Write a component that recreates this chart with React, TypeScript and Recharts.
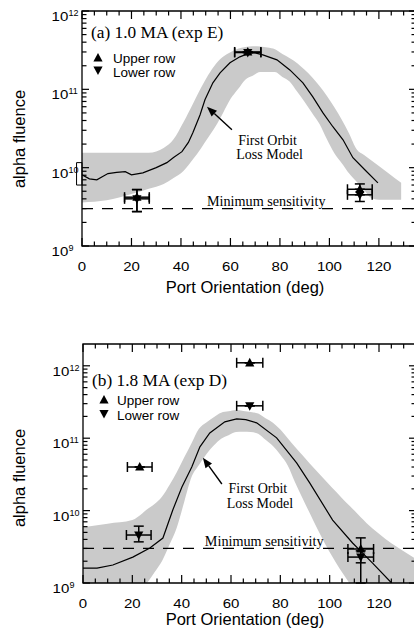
import React from 'react';
import {
  ComposedChart, Line, Area, Scatter, XAxis, YAxis,
  ReferenceLine, ReferenceDot, ReferenceArea, ErrorBar,
} from 'recharts';

const SANS = '"Liberation Sans", Arial, Helvetica, sans-serif';
const SERIF = '"Liberation Serif", "Times New Roman", Times, serif';
const BAND_FILL = '#cacaca';
const W = 420;

// ---- axes ----
const X_TICKS = [0, 5, 10, 15, 20, 25, 30, 35, 40, 45, 50, 55, 60, 65, 70, 75, 80, 85, 90, 95, 100, 105, 110, 115, 120, 125, 130, 135];
const X_LABELED = [0, 20, 40, 60, 80, 100, 120];
const DECADES = [9, 10, 11];
const MANTISSAS = [1, 2, 3, 4, 5, 6, 7, 8, 9];
const Y_TICKS = [...DECADES.flatMap((d) => MANTISSAS.map((m) => m * Math.pow(10, d))), 1e12];
const MIN_SENS = 3e9;

// ---- panel (a) 1.0 MA ----
const modelAngleA = [0, 3, 6, 8, 10.5, 14, 17.5, 20, 24.6, 30, 34.3, 37, 40.4, 43, 44.8, 47.7, 49.7, 52.9, 55.8, 59.8, 63.8, 67.9, 70, 73.1, 78.8, 84, 89.3, 93.3, 97.4, 101.4, 105.5, 109.5, 114.3, 119.6];
const modelFluenceA = [8.1e9, 7.2e9, 7.0e9, 7.6e9, 8.4e9, 8.7e9, 8.9e9, 8.1e9, 8.6e9, 1.0e10, 1.16e10, 1.35e10, 1.6e10, 2.1e10, 2.8e10, 4.7e10, 7.35e10, 1.21e11, 1.62e11, 2.18e11, 2.6e11, 2.92e11, 2.92e11, 2.75e11, 2.38e11, 1.77e11, 1.21e11, 8.0e10, 5.0e10, 3.33e10, 2.27e10, 1.34e10, 9.4e9, 6.4e9];
const bandAngleA = [0, 10, 20, 27, 33, 37, 41, 45, 48, 51, 54, 57, 60, 63, 66, 69, 72, 75, 78, 81, 84, 87, 90, 93, 96, 99, 102, 105, 108, 111, 114, 117, 120, 124, 129];
const bandLowA = [3.6e9, 3.83e9, 4.6e9, 5.4e9, 6.2e9, 7.4e9, 9.1e9, 1.3e10, 1.75e10, 2.42e10, 3.37e10, 5.0e10, 7.5e10, 1.0e11, 1.33e11, 1.49e11, 1.67e11, 1.67e11, 1.67e11, 1.44e11, 1.25e11, 9.3e10, 6.9e10, 5.0e10, 3.6e10, 2.3e10, 1.53e10, 1.14e10, 8.4e9, 6.6e9, 5.2e9, 4.1e9, 3.9e9, 3.9e9, 3.9e9];
const bandHighA = [1.55e10, 1.55e10, 1.55e10, 1.55e10, 1.78e10, 2.3e10, 3.8e10, 6.7e10, 1.03e11, 1.52e11, 2.09e11, 2.6e11, 2.97e11, 3.29e11, 3.47e11, 3.55e11, 3.52e11, 3.41e11, 3.24e11, 2.82e11, 2.49e11, 2.16e11, 1.78e11, 1.43e11, 1.1e11, 8.2e10, 5.9e10, 4.1e10, 2.72e10, 1.72e10, 1.45e10, 1.23e10, 1.05e10, 8.4e9, 6.4e9];
const upperAngleA = [22.2, 67, 112.3];
const upperFluenceA = [4.2e9, 3.0e11, 5.3e9];
const upperAngleErrA = [5, 5.3, 5];
const upperFluenceErrA: [number, number][] = [[1.45e9, 1.05e9], [0, 0], [0.8e9, 0.9e9]];
const lowerAngleA = [22.2, 67, 112.3];
const lowerFluenceA = [4.0e9, 2.95e11, 4.5e9];
const lowerAngleErrA = [5, 5.3, 5];
const lowerFluenceErrA: [number, number][] = [[1.25e9, 1.25e9], [0, 0], [0.8e9, 0.8e9]];
const bracketA = { x: [-2.2, 0], y: [6.0e9, 1.16e10] };

// ---- panel (b) 1.8 MA ----
const modelAngleB = [0, 5.7, 12.1, 20.2, 27.1, 32.4, 36.4, 40.1, 44.1, 47.4, 51.4, 57.5, 62.3, 66, 70.4, 78.5, 86.6, 91.9, 101.2, 109.3, 117.4, 125.1];
const modelFluenceB = [1.61e9, 1.61e9, 1.77e9, 2.28e9, 3.04e9, 4.18e9, 1.02e10, 2.12e10, 4.0e10, 7.6e10, 1.18e11, 1.68e11, 1.85e11, 1.8e11, 1.63e11, 1.01e11, 4.55e10, 2.41e10, 7.4e9, 3.57e9, 1.88e9, 1.0e9];
const bandAngleB = [0, 10, 20, 24, 26, 29, 32, 35, 38, 41, 44, 47, 50, 53, 56, 59, 62, 65, 68, 71, 74, 77, 80, 83, 86, 89, 92, 95, 98, 101, 104, 107, 110, 115, 120, 125, 130, 135];
const bandLowB = [5e8, 5e8, 5e8, 7.9e8, 1.0e9, 1.41e9, 2.0e9, 3.35e9, 5.8e9, 1.3e10, 2.9e10, 4.27e10, 6.0e10, 7.9e10, 9.8e10, 1.1e11, 1.22e11, 1.23e11, 1.22e11, 1.15e11, 9.5e10, 7.8e10, 5.9e10, 4.2e10, 2.45e10, 1.48e10, 9.1e9, 5.6e9, 3.55e9, 2.34e9, 1.58e9, 1.12e9, 7.9e8, 5e8, 5e8, 5e8, 5e8, 5e8];
const bandHighB = [5.9e9, 6.6e9, 7.4e9, 9.1e9, 1.04e10, 1.23e10, 1.55e10, 2.24e10, 3.39e10, 5.4e10, 8.5e10, 1.35e11, 1.65e11, 1.95e11, 2.25e11, 2.35e11, 2.45e11, 2.38e11, 2.3e11, 2.19e11, 1.89e11, 1.64e11, 1.32e11, 1.0e11, 7.55e10, 5.8e10, 4.42e10, 3.44e10, 2.66e10, 2.07e10, 1.62e10, 1.26e10, 1.0e10, 6.7e9, 4.8e9, 3.55e9, 2.75e9, 2.14e9];
const upperAngleB = [23, 67.6, 112.6];
const upperFluenceB = [4.0e10, 1.1e12, 2.95e9];
const upperAngleErrB = [5, 5.3, 5.2];
const upperFluenceErrB: [number, number][] = [[0, 0], [0, 0], [1.05e9, 1.25e9]];
const lowerAngleB = [22.6, 67.6, 112.6];
const lowerFluenceB = [4.6e9, 2.8e11, 2.28e9];
const lowerAngleErrB = [5, 5.3, 5.2];
const lowerFluenceErrB: [number, number][] = [[0.9e9, 1.5e9], [0, 0], [1.28e9, 0.5e9]];

// annotation anchors (data coordinates)
const arrowA = [{ x: 60.6, y: 3.05e10 }, { x: 50.5, y: 5.98e10 }];
const labelA = { x: 75, y: 1.96e10 };
const minTextA = { x: 50.5, y: MIN_SENS };
const arrowB = [{ x: 56.3, y: 2.33e10 }, { x: 48.6, y: 5.35e10 }];
const labelB = { x: 70.9, y: 1.75e10 };
const minTextB = { x: 49.4, y: MIN_SENS };

const toLine = (xs: number[], ys: number[]) => xs.map((x, i) => ({ x, y: ys[i] }));
const toBand = (xs: number[], lo: number[], hi: number[]) => xs.map((x, i) => ({ x, band: [lo[i], hi[i]] }));
const toPts = (xs: number[], ys: number[], xe: number[], ye: [number, number][]) =>
  xs.map((x, i) => ({ x, y: ys[i], xe: [xe[i], xe[i]], ye: ye[i] }));

const UpTri = (p: any) => {
  const { cx, cy } = p;
  if (cx == null || cy == null) return <g />;
  return <polygon points={`${cx},${cy - 5} ${cx - 4.6},${cy + 3.6} ${cx + 4.6},${cy + 3.6}`} fill="#000" />;
};
const DownTri = (p: any) => {
  const { cx, cy } = p;
  if (cx == null || cy == null) return <g />;
  return <polygon points={`${cx},${cy + 5} ${cx - 4.6},${cy - 3.6} ${cx + 4.6},${cy - 3.6}`} fill="#000" />;
};

const Arrow = (p: any) => {
  const { x1, y1, x2, y2 } = p;
  const a = Math.atan2(y2 - y1, x2 - x1);
  const L = 10, Wd = 4;
  const bx = x2 - L * Math.cos(a), by = y2 - L * Math.sin(a);
  const px = -Math.sin(a) * Wd, py = Math.cos(a) * Wd;
  return (
    <g>
      <line x1={x1} y1={y1} x2={bx} y2={by} stroke="#000" strokeWidth={1.4} />
      <polygon points={`${x2},${y2} ${bx + px},${by + py} ${bx - px},${by - py}`} fill="#000" />
    </g>
  );
};

function makeXTick(plotH: number) {
  return (props: any) => {
    const { x, y, payload } = props;
    const v = payload.value;
    const major = v % 20 === 0;
    const len = major ? 8 : 4.5;
    return (
      <g>
        <line x1={x} y1={y} x2={x} y2={y - len} stroke="#000" strokeWidth={1.2} />
        <line x1={x} y1={y - plotH} x2={x} y2={y - plotH + len} stroke="#000" strokeWidth={1.2} />
        {X_LABELED.includes(v) ? (
          <text transform={`translate(${x},${y + 25}) scale(1.25,1)`} textAnchor="middle" fontSize={12} fontFamily={SANS} fill="#000">{v}</text>
        ) : null}
      </g>
    );
  };
}

function makeYTick(plotW: number) {
  return (props: any) => {
    const { x, y, payload } = props;
    const v = payload.value;
    const e = Math.log10(v);
    const major = Math.abs(e - Math.round(e)) < 1e-6;
    const len = major ? 7 : 4.5;
    return (
      <g>
        <line x1={x} y1={y} x2={x + len} y2={y} stroke="#000" strokeWidth={1.2} />
        <line x1={x + plotW} y1={y} x2={x + plotW - len} y2={y} stroke="#000" strokeWidth={1.2} />
        {major ? (
          <g>
            <text transform={`translate(${x - 13.7},${y + 10}) scale(1.25,1)`} textAnchor="end" fontSize={12} fontFamily={SANS} fill="#000">10</text>
            <text transform={`translate(${x - 13.5},${y + 5})`} fontSize={9} fontFamily={SANS} fill="#000">{Math.round(e)}</text>
          </g>
        ) : null}
      </g>
    );
  };
}

type PanelProps = {
  height: number; marginTop: number; xAxisH: number; yAxisW: number; yMax: number;
  model: any[]; band: any[]; upper: any[]; lower: any[];
  arrow: { x: number; y: number }[]; label: { x: number; y: number }; minText: { x: number; y: number };
  title: string; titleX: number; titleY: number;
  legX: number; legTriX: number; legY1: number; legY2: number;
  yTitleY: number; xTitleY: number;
  bracket?: { x: number[]; y: number[] };
};

function Panel(p: PanelProps) {
  const marginRight = 4;
  const plotH = p.height - p.marginTop - p.xAxisH;
  const plotW = W - marginRight - p.yAxisW;
  return (
    <ComposedChart width={W} height={p.height} margin={{ top: p.marginTop, right: marginRight, bottom: 0, left: 0 }}>
      <XAxis dataKey="x" type="number" domain={[0, 135]} allowDataOverflow ticks={X_TICKS} interval={0}
        tickSize={0} tickMargin={0} axisLine={false} tickLine={false} tick={makeXTick(plotH)} height={p.xAxisH} />
      <YAxis dataKey="y" type="number" scale="log" domain={[1e9, p.yMax]} allowDataOverflow ticks={Y_TICKS} interval={0}
        tickSize={0} tickMargin={0} axisLine={false} tickLine={false} tick={makeYTick(plotW)} width={p.yAxisW} />
      <Area data={p.band} dataKey="band" type="monotone" stroke="none" fill={BAND_FILL} fillOpacity={1} isAnimationActive={false} />
      <ReferenceLine y={MIN_SENS} stroke="#000" strokeWidth={1.2} strokeDasharray="11 9" />
      <Line data={p.model} dataKey="y" type="linear" stroke="#000" strokeWidth={1.2} dot={false} isAnimationActive={false} />
      <Scatter data={p.upper} dataKey="y" shape={UpTri} isAnimationActive={false}>
        <ErrorBar dataKey="xe" direction="x" width={5} stroke="#000" strokeWidth={1.5} isAnimationActive={false} />
        <ErrorBar dataKey="ye" direction="y" width={5} stroke="#000" strokeWidth={1.5} isAnimationActive={false} />
      </Scatter>
      <Scatter data={p.lower} dataKey="y" shape={DownTri} isAnimationActive={false}>
        <ErrorBar dataKey="xe" direction="x" width={5} stroke="#000" strokeWidth={1.5} isAnimationActive={false} />
        <ErrorBar dataKey="ye" direction="y" width={5} stroke="#000" strokeWidth={1.5} isAnimationActive={false} />
      </Scatter>
      <ReferenceLine segment={p.arrow as any} shape={Arrow} ifOverflow="visible" />
      <ReferenceDot x={p.label.x} y={p.label.y} r={0} ifOverflow="visible"
        shape={(s: any) => (
          <g>
            <text x={s.cx} y={s.cy} fontFamily={SERIF} fontSize={14} fill="#000" textAnchor="middle">First Orbit</text>
            <text x={s.cx + 2} y={s.cy + 14.5} fontFamily={SERIF} fontSize={14} fill="#000" textAnchor="middle">Loss Model</text>
          </g>
        )} />
      <ReferenceDot x={p.minText.x} y={p.minText.y} r={0} ifOverflow="visible"
        shape={(s: any) => (
          <text x={s.cx} y={s.cy - 2.5} fontFamily={SERIF} fontSize={14.2} fill="#000">Minimum sensitivity</text>
        )} />
      {p.bracket ? (
        <ReferenceArea x1={p.bracket.x[0]} x2={p.bracket.x[1]} y1={p.bracket.y[0]} y2={p.bracket.y[1]}
          ifOverflow="visible" fill="#fff" fillOpacity={1} stroke="#000" strokeWidth={1} />
      ) : null}
      <ReferenceArea x1={0} x2={135} y1={1e9} y2={p.yMax} ifOverflow="visible" fill="none" fillOpacity={0} stroke="#000" strokeWidth={1.3} />
      <text transform={`translate(${p.titleX},${p.titleY}) scale(1.05,1)`} fontFamily={SERIF} fontSize={16.5} fill="#000">{p.title}</text>
      <polygon points={`${p.legTriX},${p.legY1 - 10} ${p.legTriX - 4.6},${p.legY1 - 1.5} ${p.legTriX + 4.6},${p.legY1 - 1.5}`} fill="#000" />
      <text x={p.legX} y={p.legY1} fontFamily={SANS} fontSize={13.5} fill="#000">Upper row</text>
      <polygon points={`${p.legTriX},${p.legY2 - 1.5} ${p.legTriX - 4.6},${p.legY2 - 10} ${p.legTriX + 4.6},${p.legY2 - 10}`} fill="#000" />
      <text x={p.legX} y={p.legY2} fontFamily={SANS} fontSize={13.5} fill="#000">Lower row</text>
      <text transform={`translate(25,${p.yTitleY}) rotate(-90)`} textAnchor="middle" fontFamily={SANS} fontSize={16.5} fill="#000">alpha fluence</text>
      <text x={245} y={p.xTitleY} textAnchor="middle" fontFamily={SANS} fontSize={16.5} fill="#000">Port Orientation (deg)</text>
    </ComposedChart>
  );
}

export default function App() {
  return (
    <div style={{ position: 'absolute', left: 0, top: 0, width: 414, height: 628, overflow: 'hidden', background: '#fff' }}>
      <div style={{ position: 'absolute', left: 0, top: 0 }}>
        <Panel height={310} marginTop={11} xAxisH={64} yAxisW={82} yMax={1e12}
          model={toLine(modelAngleA, modelFluenceA)} band={toBand(bandAngleA, bandLowA, bandHighA)}
          upper={toPts(upperAngleA, upperFluenceA, upperAngleErrA, upperFluenceErrA)}
          lower={toPts(lowerAngleA, lowerFluenceA, lowerAngleErrA, lowerFluenceErrA)}
          arrow={arrowA} label={labelA} minText={minTextA}
          title="(a) 1.0 MA (exp E)" titleX={91} titleY={38}
          legX={113} legTriX={98} legY1={63} legY2={76.5}
          yTitleY={139} xTitleY={293} bracket={bracketA} />
      </div>
      <div style={{ position: 'absolute', left: 0, top: 310 }}>
        <Panel height={318} marginTop={34} xAxisH={45} yAxisW={83} yMax={2e12}
          model={toLine(modelAngleB, modelFluenceB)} band={toBand(bandAngleB, bandLowB, bandHighB)}
          upper={toPts(upperAngleB, upperFluenceB, upperAngleErrB, upperFluenceErrB)}
          lower={toPts(lowerAngleB, lowerFluenceB, lowerAngleErrB, lowerFluenceErrB)}
          arrow={arrowB} label={labelB} minText={minTextB}
          title="(b) 1.8 MA (exp D)" titleX={92} titleY={76}
          legX={117} legTriX={104} legY1={95} legY2={110}
          yTitleY={168} xTitleY={314.5} />
      </div>
    </div>
  );
}
